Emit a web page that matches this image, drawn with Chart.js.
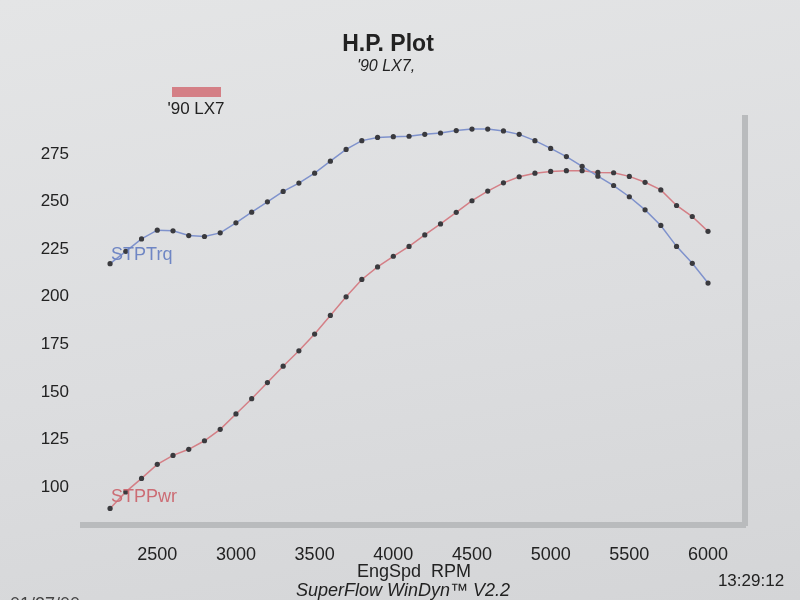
<!DOCTYPE html>
<html>
<head>
<meta charset="utf-8">
<script src="https://cdn.jsdelivr.net/npm/chart.js@4/dist/chart.umd.min.js"></script>
<style>
  html, body { margin: 0; padding: 0; }
  body { width: 800px; height: 600px; background: linear-gradient(170deg, #e4e5e6 0%, #dcdddf 55%, #d4d5d7 100%); }
  #wrap { width: 800px; height: 600px; position: relative; }
</style>
</head>
<body>
<div id="wrap"><canvas id="grafico"></canvas></div>
<script>
// rpm do dinamometro (passo de 100)
const rpm = [2200, 2300, 2400, 2500, 2600, 2700, 2800, 2900, 3000, 3100,
             3200, 3300, 3400, 3500, 3600, 3700, 3800, 3900, 4000, 4100,
             4200, 4300, 4400, 4500, 4600, 4700, 4800, 4900, 5000, 5100,
             5200, 5300, 5400, 5500, 5600, 5700, 5800, 5900, 6000]

// STPTrq (lb-ft)
const torque = [217.4, 223.9, 230.4, 235.0, 234.7, 232.2, 231.7, 233.6, 238.9, 244.5,
                249.9, 255.4, 259.8, 265.0, 271.3, 277.5, 282.1, 283.8, 284.2, 284.4,
                285.4, 286.1, 287.4, 288.2, 288.2, 287.2, 285.4, 282.1, 278.0, 273.7,
                268.6, 263.4, 258.5, 252.6, 245.7, 237.5, 226.5, 217.6, 207.2]

// STPPwr (hp)
const potencia = [88.7, 97.4, 104.5, 111.9, 116.6, 119.8, 124.3, 130.3, 138.4, 146.4,
                  154.9, 163.5, 171.6, 180.4, 190.2, 200.0, 209.1, 215.7, 221.3, 226.5,
                  232.5, 238.3, 244.4, 250.5, 255.6, 259.9, 263.1, 265.0, 265.9, 266.3,
                  266.3, 265.4, 265.2, 263.3, 260.2, 256.2, 248.0, 242.2, 234.4]

const ticksX = [2500, 3000, 3500, 4000, 4500, 5000, 5500, 6000]
const ticksY = [100, 125, 150, 175, 200, 225, 250, 275]

const corTrq = '#7f92cc'
const corPwr = '#d47f86'
const fonte = '"Liberation Sans", Arial, sans-serif'

const pontos = (ys) => rpm.map((r, i) => ({ x: r, y: ys[i] }))

// textos soltos da folha impressa
const textosFolha = {
  id: 'textosFolha',
  afterDraw(chart) {
    const ctx = chart.ctx
    const sx = chart.scales.x, sy = chart.scales.y
    ctx.save()
    ctx.fillStyle = '#222'
    ctx.textAlign = 'center'
    ctx.textBaseline = 'middle'
    ctx.font = 'bold 23px ' + fonte
    ctx.fillText('H.P. Plot', 388, 45)
    ctx.font = 'italic 16px ' + fonte
    ctx.fillText("'90 LX7,", 386, 67)

    // legenda
    ctx.fillStyle = corPwr
    ctx.fillRect(172, 87, 49, 10)
    ctx.fillStyle = '#222'
    ctx.font = '17px ' + fonte
    ctx.fillText("'90 LX7", 196, 109)

    // rotulos das curvas
    ctx.textAlign = 'left'
    ctx.font = '18px ' + fonte
    ctx.fillStyle = '#6f86c4'
    ctx.fillText('STPTrq', sx.getPixelForValue(rpm[0]) + 1, sy.getPixelForValue(torque[0]) - 9)
    ctx.fillStyle = '#cc6c74'
    ctx.fillText('STPPwr', sx.getPixelForValue(rpm[0]) + 1, sy.getPixelForValue(potencia[0]) - 11)

    // rodape
    ctx.fillStyle = '#222'
    ctx.textAlign = 'center'
    ctx.font = 'italic 18px ' + fonte
    ctx.fillText('SuperFlow WinDyn\u2122 V2.2', 403, 591)
    ctx.font = '17px ' + fonte
    ctx.fillText('13:29:12', 751, 581)
    ctx.fillStyle = '#444'
    ctx.textAlign = 'left'
    ctx.font = '18px ' + fonte
    ctx.fillText('01/27/00', 10, 605)
    ctx.restore()
  }
}

new Chart(document.getElementById('grafico'), {
  type: 'line',
  data: {
    datasets: [
      {
        label: 'STPTrq',
        data: pontos(torque),
        borderColor: corTrq,
        borderWidth: 1.5,
        pointRadius: 2.6,
        pointBackgroundColor: '#3a3a3e',
        pointBorderWidth: 0,
        tension: 0
      },
      {
        label: 'STPPwr',
        data: pontos(potencia),
        borderColor: corPwr,
        borderWidth: 1.5,
        pointRadius: 2.6,
        pointBackgroundColor: '#3a3a3e',
        pointBorderWidth: 0,
        tension: 0
      }
    ]
  },
  options: {
    responsive: true,
    maintainAspectRatio: false,
    animation: false,
    layout: { padding: { top: 118, right: 55, left: 0, bottom: 0 } },
    plugins: {
      legend: { display: false },
      title: { display: false },
      tooltip: { enabled: false }
    },
    scales: {
      x: {
        type: 'linear',
        min: 2028,
        max: 6235,
        afterBuildTicks: (s) => { s.ticks = ticksX.map(v => ({ value: v })) },
        afterFit: (s) => { s.height = 75 },
        grid: { display: false, drawTicks: false },
        border: { display: true, color: '#b9bbbd', width: 6 },
        ticks: {
          padding: 19,
          color: '#222',
          font: { family: fonte, size: 18 },
          callback: (v) => String(v)
        },
        title: {
          display: true,
          text: 'EngSpd  RPM',
          color: '#222',
          font: { family: fonte, size: 18 },
          padding: { top: 0, bottom: 17 }
        }
      },
      y: {
        min: 80,
        max: 294,
        afterBuildTicks: (s) => { s.ticks = ticksY.map(v => ({ value: v })) },
        afterFit: (s) => { s.width = 83 },
        grid: { display: false, drawTicks: false },
        border: { display: false },
        ticks: {
          padding: 14,
          color: '#222',
          font: { family: fonte, size: 17 },
          callback: (v) => String(v)
        }
      },
      direita: {
        position: 'right',
        min: 80,
        max: 294,
        afterFit: (s) => { s.width = 0 },
        grid: { display: false, drawTicks: false },
        border: { display: true, color: '#b9bbbd', width: 6 },
        ticks: { display: false }
      }
    }
  },
  plugins: [textosFolha]
})
</script>
</body>
</html>
